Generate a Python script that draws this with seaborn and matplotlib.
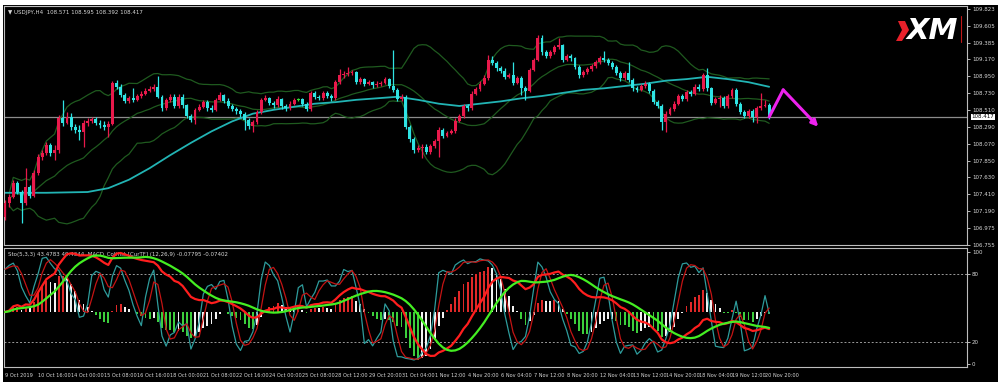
import numpy as np
import pandas as pd
import seaborn as sns
import matplotlib
matplotlib.use("Agg")
import matplotlib.pyplot as plt
from matplotlib.patches import Rectangle, Polygon
from matplotlib.transforms import blended_transform_factory

# ---------------- data (USDJPY, H4) ----------------
open0 = 107.11
close = [
    107.30, 107.38, 107.56, 107.44, 107.30, 107.51, 107.39, 107.69, 107.90, 107.95,
    108.05, 107.95, 107.99, 108.40, 108.34, 108.42, 108.29, 108.25, 108.22, 108.34,
    108.37, 108.39, 108.34, 108.31, 108.29, 108.33, 108.86, 108.81, 108.70, 108.63,
    108.66, 108.64, 108.69, 108.72, 108.76, 108.78, 108.81, 108.68, 108.53, 108.64,
    108.68, 108.56, 108.68, 108.57, 108.43, 108.38, 108.51, 108.55, 108.61, 108.53,
    108.51, 108.64, 108.70, 108.63, 108.56, 108.52, 108.49, 108.46, 108.38, 108.30,
    108.35, 108.48, 108.64, 108.66, 108.60, 108.57, 108.65, 108.56, 108.53, 108.59,
    108.64, 108.645, 108.59, 108.52, 108.73, 108.68, 108.66, 108.73, 108.69, 108.66,
    108.87, 108.96, 108.98, 108.99, 109.00, 108.87, 108.91, 108.85, 108.87, 108.83,
    108.85, 108.86, 108.91, 108.82, 108.77, 108.65, 108.68, 108.29, 108.13, 107.99,
    108.01, 108.03, 107.96, 108.04, 108.10, 108.25, 108.17, 108.21, 108.23, 108.37,
    108.43, 108.56, 108.53, 108.72, 108.78, 108.85, 108.92, 109.16, 109.12, 109.05,
    109.02, 108.94, 108.96, 108.86, 108.92, 108.79, 108.76, 109.03, 109.16, 109.45,
    109.26, 109.21, 109.26, 109.33, 109.35, 109.16, 109.21, 109.18, 109.07, 108.96,
    109.00, 109.04, 109.08, 109.13, 109.18, 109.16, 109.12, 109.07, 108.99, 108.92,
    108.99, 108.90, 108.79, 108.77, 108.82, 108.85, 108.76, 108.61, 108.56, 108.35,
    108.46, 108.52, 108.59, 108.69, 108.65, 108.74, 108.72, 108.81, 108.78, 108.96,
    108.79, 108.60, 108.65, 108.66, 108.56, 108.69, 108.77, 108.59, 108.48, 108.43,
    108.49, 108.42, 108.53, 108.56, 108.571, 108.417]
high = [
    107.34, 107.41, 107.60, 107.58, 107.47, 107.75, 107.53, 107.73, 107.93, 107.99,
    108.09, 108.08, 108.05, 108.44, 108.64, 108.48, 108.47, 108.33, 108.31, 108.38,
    108.40, 108.42, 108.42, 108.38, 108.36, 108.37, 108.89, 108.90, 108.84, 108.73,
    108.69, 108.79, 108.72, 108.75, 108.79, 108.82, 108.84, 108.95, 108.70, 108.67,
    108.71, 108.71, 108.72, 108.72, 108.59, 108.46, 108.54, 108.58, 108.64, 108.64,
    108.57, 108.67, 108.74, 108.72, 108.66, 108.59, 108.55, 108.52, 108.48, 108.40,
    108.38, 108.51, 108.67, 108.70, 108.68, 108.63, 108.69, 108.67, 108.59, 108.62,
    108.67, 108.67, 108.67, 108.61, 108.76, 108.75, 108.70, 108.76, 108.75, 108.72,
    108.90, 109.04, 109.01, 109.07, 109.03, 109.02, 108.94, 108.93, 108.90, 108.89,
    108.88, 108.89, 108.94, 108.93, 109.29, 108.79, 108.71, 108.70, 108.31, 108.15,
    108.05, 108.06, 108.06, 108.07, 108.13, 108.28, 108.27, 108.24, 108.26, 108.40,
    108.46, 108.59, 108.59, 108.75, 108.81, 108.88, 108.96, 109.22, 109.21, 109.14,
    109.08, 109.05, 108.99, 109.13, 108.95, 108.95, 108.82, 109.06, 109.19, 109.49,
    109.48, 109.29, 109.29, 109.36, 109.45, 109.37, 109.24, 109.24, 109.20, 109.09,
    109.03, 109.07, 109.11, 109.16, 109.21, 109.28, 109.19, 109.14, 109.09, 109.01,
    109.02, 109.13, 108.92, 108.82, 108.85, 108.88, 108.87, 108.78, 108.64, 108.58,
    108.49, 108.55, 108.62, 108.72, 108.72, 108.77, 108.77, 108.84, 108.84, 108.99,
    109.05, 108.81, 108.68, 108.70, 108.69, 108.72, 108.80, 108.79, 108.61, 108.51,
    108.52, 108.52, 108.56, 108.73, 108.64, 108.595]
low = [
    107.08, 107.25, 107.36, 107.41, 107.04, 107.27, 107.36, 107.38, 107.66, 107.86,
    107.92, 107.91, 107.86, 107.95, 108.30, 108.32, 108.25, 108.21, 108.12, 108.03,
    108.30, 108.34, 108.31, 108.27, 108.25, 108.16, 108.31, 108.78, 108.68, 108.60,
    108.60, 108.61, 108.62, 108.67, 108.70, 108.74, 108.76, 108.66, 108.50, 108.51,
    108.61, 108.53, 108.54, 108.54, 108.40, 108.35, 108.33, 108.49, 108.53, 108.50,
    108.48, 108.49, 108.62, 108.60, 108.53, 108.49, 108.46, 108.42, 108.25, 108.26,
    108.22, 108.33, 108.46, 108.62, 108.57, 108.54, 108.55, 108.52, 108.50, 108.51,
    108.57, 108.62, 108.56, 108.49, 108.50, 108.65, 108.64, 108.64, 108.66, 108.63,
    108.64, 108.85, 108.93, 108.95, 108.96, 108.84, 108.85, 108.82, 108.83, 108.80,
    108.81, 108.82, 108.84, 108.79, 108.74, 108.62, 108.62, 108.26, 108.09, 107.95,
    107.96, 107.88, 107.93, 107.93, 108.01, 107.89, 108.14, 108.15, 108.19, 108.21,
    108.35, 108.41, 108.50, 108.51, 108.70, 108.76, 108.83, 108.90, 109.09, 109.02,
    108.99, 108.91, 108.92, 108.83, 108.84, 108.70, 108.64, 108.74, 109.01, 109.14,
    109.23, 109.18, 109.19, 109.24, 109.30, 109.13, 109.14, 109.15, 109.04, 108.93,
    108.94, 108.98, 109.02, 109.06, 109.11, 109.13, 109.09, 109.04, 108.96, 108.89,
    108.90, 108.87, 108.76, 108.74, 108.75, 108.80, 108.73, 108.58, 108.53, 108.25,
    108.22, 108.44, 108.50, 108.57, 108.62, 108.63, 108.69, 108.70, 108.76, 108.76,
    108.76, 108.57, 108.58, 108.55, 108.53, 108.54, 108.67, 108.56, 108.45, 108.40,
    108.41, 108.35, 108.34, 108.51, 108.55, 108.392]

ma_bars = [0, 10, 20, 25, 30, 35, 40, 45, 50, 55, 60, 65, 70, 75, 80, 85, 90, 95,
           100, 105, 110, 115, 120, 125, 130, 135, 140, 145, 150, 155, 160, 165,
           170, 175, 180, 185]
ma_vals = [107.43, 107.43, 107.44, 107.49, 107.60, 107.75, 107.92, 108.08, 108.23,
           108.36, 108.46, 108.51, 108.55, 108.59, 108.61, 108.64, 108.66, 108.68,
           108.64, 108.59, 108.56, 108.59, 108.62, 108.66, 108.69, 108.73, 108.77,
           108.79, 108.82, 108.85, 108.89, 108.91, 108.94, 108.91, 108.87, 108.81]

# forecast arrow (bar position, price)
fc_bars = [185, 188.4, 196.9]
fc_prices = [108.417, 108.77, 108.29]

price_ticks = [109.823, 109.605, 109.385, 109.170, 108.950, 108.730, 108.510,
               108.290, 108.070, 107.850, 107.630, 107.410, 107.190, 106.975, 106.755]
time_labels = ["9 Oct 2019", "10 Oct 16:00", "14 Oct 00:00", "15 Oct 08:00",
               "16 Oct 16:00", "18 Oct 00:00", "21 Oct 08:00", "22 Oct 16:00",
               "24 Oct 00:00", "25 Oct 08:00", "28 Oct 12:00", "29 Oct 20:00",
               "31 Oct 04:00", "1 Nov 12:00", "4 Nov 20:00", "6 Nov 04:00",
               "7 Nov 12:00", "8 Nov 20:00", "12 Nov 04:00", "13 Nov 12:00",
               "14 Nov 20:00", "18 Nov 04:00", "19 Nov 12:00", "20 Nov 20:00"]
osc_ticks = [0, 20, 80, 100]

header_top = "\u25BC USDJPY,H4  108.571 108.595 108.392 108.417"
header_low = "Sto(5,3,3) 43.4783 49.4344  MACD_ColHist [CurTF] (12,26,9) -0.07795 -0.07402"

# ---------------- style ----------------
sns.set_theme(style="dark")
plt.rcParams['font.family'] = ['Liberation Sans Narrow', 'DejaVu Sans']
RED = "#e8194b"
CYAN = "#2fe3e3"
BBG = "#1f5a1f"
MACOL = "#22b4b4"
TXT = "#d8d8d8"
FRAME = "#bdbdbd"
FS = 4.0

c = np.array(close)
o = np.r_[open0, c[:-1]]
hi = np.maximum(np.array(high), np.maximum(o, c))
lo = np.minimum(np.array(low), np.minimum(o, c))
x = np.arange(len(c))
df = pd.DataFrame({"bar": x, "open": o, "high": hi, "low": lo, "close": c})

# indicators
s = df["close"]
mid = s.rolling(20, min_periods=2).mean()
sd = s.rolling(20, min_periods=2).std(ddof=0)
df["bb_mid"], df["bb_up"], df["bb_dn"] = mid, mid + 2 * sd, mid - 2 * sd
ll = df["low"].rolling(5, min_periods=1).min()
hh = df["high"].rolling(5, min_periods=1).max()
num = (s - ll).rolling(3, min_periods=1).sum()
den = (hh - ll).rolling(3, min_periods=1).sum()
df["k"] = 100 * num / den
df["d"] = df["k"].rolling(3, min_periods=1).mean()
macd = s.ewm(span=12, adjust=False).mean() - s.ewm(span=26, adjust=False).mean()
df["macd"] = macd
df["signal"] = macd.rolling(9, min_periods=1).mean()
df["hist"] = df["macd"] - df["signal"]

W, H = 1000, 385
fig = plt.figure(figsize=(10, 3.85), dpi=100, facecolor="white")
fig.patches.append(Rectangle((3 / W, 3 / H), 995 / W, 377 / H, transform=fig.transFigure,
                             facecolor="black", edgecolor="none", zorder=-5))


def box(x0, y0, x1, y1):
    return [x0 / W, 1 - y1 / H, (x1 - x0) / W, (y1 - y0) / H]


ax1 = fig.add_axes(box(4, 6, 967, 245))
axh = fig.add_axes(box(4, 248, 967, 367))
ax1.set_zorder(1)
XL = (-0.25, 232.9)

for ax in (ax1, axh):
    ax.set_facecolor("black")
    ax.set_xlim(*XL)
    for sp in ax.spines.values():
        sp.set_color(FRAME)
        sp.set_linewidth(0.8)
    ax.grid(False)

# ---- price panel ----
ax1.set_ylim(106.75, 109.862)
ax1.axhline(c[-1], color="#8c8c8c", lw=0.9, zorder=1)
sns.lineplot(data=df, x="bar", y="bb_up", ax=ax1, color=BBG, lw=0.9)
sns.lineplot(data=df, x="bar", y="bb_mid", ax=ax1, color=BBG, lw=0.9)
sns.lineplot(data=df, x="bar", y="bb_dn", ax=ax1, color=BBG, lw=0.9)
sns.lineplot(x=ma_bars, y=ma_vals, ax=ax1, color=MACOL, lw=1.3)

body = np.abs(c - o)
cols = np.where(body < 0.006, "#30e030", np.where(c >= o, RED, CYAN))
ax1.vlines(x, lo, hi, colors=cols, lw=0.9, zorder=3)
ax1.bar(x, np.maximum(body, 0.008), bottom=np.minimum(o, c), width=0.7,
        color=cols, linewidth=0, zorder=4)

MAG = "#ee22ee"
ax1.plot(fc_bars[:2], fc_prices[:2], color=MAG, lw=2.2, solid_capstyle="round", zorder=6)
ax1.annotate("", xy=(fc_bars[2], fc_prices[2]), xytext=(fc_bars[1], fc_prices[1]),
             arrowprops=dict(arrowstyle="-|>", color=MAG, lw=2.2, mutation_scale=9,
                             shrinkA=0, shrinkB=0), zorder=6)

ax1.yaxis.tick_right()
ax1.set_yticks(price_ticks)
ax1.set_yticklabels([f"{v:.3f}" for v in price_ticks])
ax1.set_xticks([])
ax1.tick_params(axis="y", colors=TXT, labelsize=FS, length=2, width=0.6, pad=1.5,
                direction="out")
ax1.set_xlabel("")
ax1.set_ylabel("")
tr = blended_transform_factory(ax1.transAxes, ax1.transData)
ax1.text(1.0045, c[-1], f"{c[-1]:.3f}", transform=tr, fontsize=FS, color="black",
         va="center", ha="left",
         bbox=dict(boxstyle="square,pad=0.15", fc="white", ec="none"))
ax1.text(0.004, 0.985, header_top, transform=ax1.transAxes, fontsize=FS,
         color=TXT, va="top", ha="left")

# XM logo
ax1.add_patch(Polygon([[0.9283, 0.9372], [0.9356, 0.9372], [0.9398, 0.8996],
                       [0.9325, 0.8536], [0.9263, 0.8536], [0.9325, 0.8996]],
                      closed=True, transform=ax1.transAxes,
                      facecolor="#e8202a", edgecolor="none", zorder=7))
ax1.text(0.964, 0.897, "XM", transform=ax1.transAxes, fontsize=21, color="white",
         fontweight="bold", fontstyle="italic", ha="center", va="center", zorder=8,
         family=['DejaVu Sans'])
ax1.plot([0.994, 0.994], [0.85, 0.96], transform=ax1.transAxes, color="#c01818",
         lw=0.8, zorder=8)

# ---- oscillator panel ----
axh.set_ylim(-2.7, 103.6)
axh.set_zorder(1)


def twin(z):
    a = axh.twinx()
    a.set_zorder(z)
    a.patch.set_visible(False)
    a.set_xlim(*XL)
    a.set_yticks([])
    for sp in a.spines.values():
        sp.set_visible(False)
    a.grid(False)
    return a


axh2 = twin(1.5)
ax2 = twin(2)
ax3 = twin(3)

# histogram (own scale, zero near 46%)
hv = df["hist"].values
R2 = np.abs(hv).max() / 0.40
axh2.set_ylim(-0.462 * R2, 0.538 * R2)
prev = np.r_[0.0, hv[:-1]]
hcol = np.where((hv > 0) & (hv >= prev), "#e02828",
                np.where((hv < 0) & (hv <= prev), "#3ccf3c", "#f2f2f2"))
axh2.bar(x, hv, width=0.45, color=hcol, linewidth=0)

# stochastic
axh.axhline(20, color="#9a9a9a", lw=0.7, ls=(0, (2, 2)))
axh.axhline(80, color="#9a9a9a", lw=0.7, ls=(0, (2, 2)))
ax2.set_ylim(-2.7, 103.6)
sns.lineplot(data=df, x="bar", y="k", ax=ax2, color="#2e9c9c", lw=0.9)
sns.lineplot(data=df, x="bar", y="d", ax=ax2, color="#c41414", lw=0.9)

# MACD lines (own scale)
R = df["macd"].max() / 0.496
ax3.set_ylim(-0.462 * R, 0.538 * R)
sns.lineplot(data=df, x="bar", y="macd", ax=ax3, color="#ff1e1e", lw=1.6)
sns.lineplot(data=df, x="bar", y="signal", ax=ax3, color="#44ee22", lw=1.6)
for a in (ax2, ax3, axh2):
    a.set_xlabel("")
    a.set_ylabel("")
    a.set_xticks([])

axh.yaxis.tick_right()
axh.set_yticks(osc_ticks)
axh.set_yticklabels([str(v) for v in osc_ticks])
axh.tick_params(axis="y", colors=TXT, labelsize=FS, length=2, width=0.6, pad=1.5)
axh.set_xticks(np.arange(0, 8 * len(time_labels), 8))
axh.set_xticklabels(time_labels, ha="left")
axh.tick_params(axis="x", colors=TXT, labelsize=3.6, length=3, width=0.6, pad=1.5,
                direction="out")
axh.text(0.004, 0.975, header_low, transform=axh.transAxes, fontsize=FS,
         color=TXT, va="top", ha="left", zorder=10)

fig.savefig("out.png", dpi=100, facecolor="white")
